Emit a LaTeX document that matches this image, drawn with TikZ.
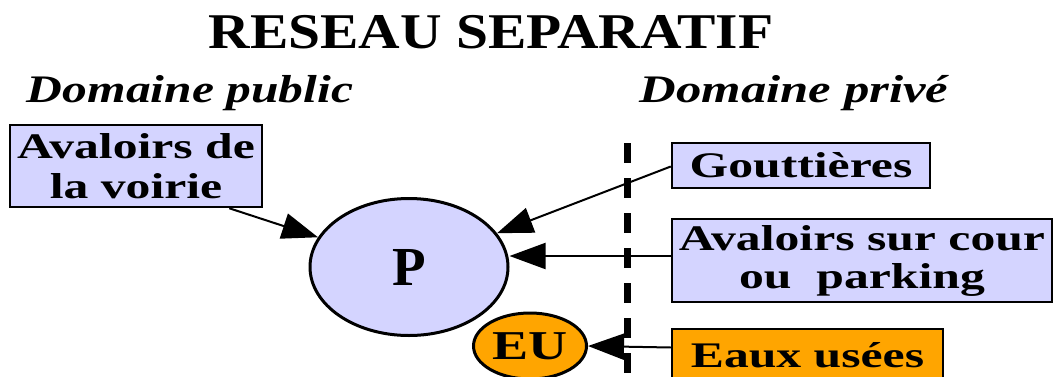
\documentclass[tikz,border=0pt]{standalone}
\usepackage{fontspec}
\setmainfont{Liberation Serif}
\usetikzlibrary{arrows.meta,calc,shapes.geometric}
\definecolor{lav}{RGB}{212,212,255}
\definecolor{org}{RGB}{255,165,0}
\newcommand{\hs}[2]{\scalebox{#1}[1]{#2}}
\begin{document}
\begin{tikzpicture}[x=1pt,y=-1pt,
  box/.style={draw=black,line width=2.5pt,rectangle,inner sep=0pt,align=center,
    font=\bfseries\fontsize{36}{38}\selectfont},
  ell/.style={draw=black,line width=3pt,ellipse,inner sep=0pt,font=\bfseries},
  conn/.style={line width=2pt,-{Triangle[length=36pt,width=26pt]}},
  head/.style={inner sep=0pt,font=\bfseries\itshape\fontsize{39}{42}\selectfont}]
\useasboundingbox (0,0) rectangle (1053,376);

\node[inner sep=0pt,font=\bfseries\fontsize{50}{54}\selectfont] (title) at (491,32) {\hs{1.15}{RESEAU SEPARATIF}};
\node[head] (dpub) at (190,93) {\hs{1.27}{Domaine public}};
\node[head] (dpriv) at (794,93) {\hs{1.30}{Domaine privé}};

\node[box,fill=lav,minimum width=252,minimum height=82,font=\bfseries\fontsize{36}{40}\selectfont] (avd) at (136,166) {\hs{1.38}{Avaloirs de}\\\hs{1.38}{la voirie}};
\node[box,fill=lav,minimum width=258,minimum height=45] (gout) at (801,165.5) {\hs{1.38}{Gouttières}};
\node[box,fill=lav,minimum width=380,minimum height=83] (cour) at (862,260.5) {\hs{1.38}{Avaloirs sur cour}\\\hs{1.38}{ou\ \ parking}};
\node[box,fill=org,minimum width=271,minimum height=53] (eaux) at (807.5,355.5) {\hs{1.38}{Eaux usées}};

\node[ell,fill=lav,minimum width=198,minimum height=137,font=\bfseries\fontsize{55}{58}\selectfont] (P) at (409,267) {P};
\node[ell,fill=org,minimum width=113,minimum height=66,font=\bfseries\fontsize{41}{44}\selectfont] (EU) at (530,346) {\hs{1.32}{EU}};

\coordinate (dtop) at (627,143);
\coordinate (dbot) at (627,380);
\draw[line width=7pt,dash pattern=on 20pt off 15pt] (dtop) -- (dbot);

\coordinate (c1) at ($(avd.south east)+(-34,0)$);
\coordinate (c2) at ($(gout.west)+(0,1)$);
\coordinate (c3) at ($(cour.west)+(0,-4.5)$);
\coordinate (c4) at ($(eaux.west)+(0,-8)$);
\draw[conn] (c1) -- (P);
\draw[conn] (c2) -- (P);
\draw[conn] (c3) -- (P.east |- c3);
\draw[conn] (c4) -- (EU.east);
\end{tikzpicture}
\end{document}
